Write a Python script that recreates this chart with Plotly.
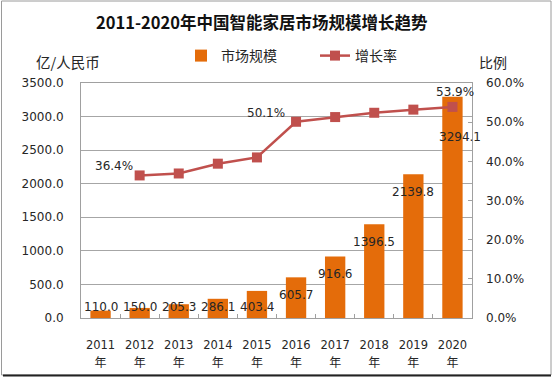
import plotly.graph_objects as go

# ---------------- data ----------------
categories = ["2011年", "2012年", "2013年", "2014年", "2015年",
              "2016年", "2017年", "2018年", "2019年", "2020年"]
market_size = [110.0, 150.0, 205.3, 286.1, 403.4, 605.7, 916.6, 1396.5, 2139.8, 3294.1]
growth_categories = ["2012年", "2013年", "2014年", "2015年", "2016年",
                     "2017年", "2018年", "2019年", "2020年"]
growth_rate = [0.364, 0.369, 0.394, 0.410, 0.501, 0.513, 0.524, 0.532, 0.539]
growth_labelled = ["2012年", "2016年", "2020年"]
tick_years = [c[:4] for c in categories]
tick_suffix = [c[4:] for c in categories]
left_ticks = [0, 500, 1000, 1500, 2000, 2500, 3000, 3500]
right_ticks = [0, 0.1, 0.2, 0.3, 0.4, 0.5, 0.6]

title_text = "2011-2020年中国智能家居市场规模增长趋势"
left_title = "亿/人民币"
right_title = "比例"
bar_name = "市场规模"
line_name = "增长率"

# ---------------- layout geometry ----------------
W, H = 554, 378
L, R, T, B = 81, 82, 83, 60
PW, PH = W - L - R, H - T - B
Y_MAX = 3500


def px_x(px):
    return (px - L) / PW


def px_y(py):
    return (H - B - py) / PH


FONT = "DejaVu Sans, Noto Sans CJK SC, sans-serif"
CJK = "Noto Sans CJK SC, DejaVu Sans, sans-serif"
TXT = "#262626"
BAR_C = "#E46C0A"
LINE_C = "#C0504D"

tick_text = [
    f"<span style='font-size:11.5px'>{y}</span><br><span style='font-size:12px'>{s}</span>"
    for y, s in zip(tick_years, tick_suffix)
]

fig = go.Figure()
fig.add_trace(go.Bar(
    x=categories, y=market_size, name=bar_name,
    marker=dict(color=BAR_C, line=dict(width=0)),
    width=0.52, yaxis="y",
))
fig.add_trace(go.Scatter(
    x=growth_categories, y=growth_rate, name=line_name, yaxis="y2",
    mode="lines+markers",
    line=dict(color=LINE_C, width=2.5),
    marker=dict(symbol="square", size=10, color=LINE_C),
))

annotations = []
# bar value labels
for i, (c, v) in enumerate(zip(categories, market_size)):
    top_px = (H - B) - v / Y_MAX * PH
    label_px = min(top_px + 18, 307)
    xs = 0
    if i == len(categories) - 1:
        label_px = top_px + 40
        xs = 8
    annotations.append(dict(
        x=c, y=v, xref="x", yref="y", text=f"{v:.1f}", showarrow=False,
        yanchor="middle", xanchor="center", yshift=-(label_px - top_px), xshift=xs,
        font=dict(family=FONT, size=12, color=TXT),
    ))
# line value labels
line_offsets = {"2012年": (-26, 9), "2016年": (-30, 9), "2020年": (3, 15)}
for c in growth_labelled:
    v = growth_rate[growth_categories.index(c)]
    dx, dy = line_offsets[c]
    annotations.append(dict(
        x=c, y=v, xref="x", yref="y2", text=f"{v*100:.1f}%", showarrow=False,
        xshift=dx, yshift=dy,
        font=dict(family=FONT, size=12, color=TXT),
    ))
# titles
annotations.append(dict(
    x=px_x(262), y=px_y(22), xref="paper", yref="paper", text="<b>" + title_text + "</b>",
    showarrow=False, xanchor="center", yanchor="middle",
    font=dict(family=CJK, size=16.5, color="#111111"),
))
annotations.append(dict(
    x=px_x(68), y=px_y(61), xref="paper", yref="paper", text=left_title,
    showarrow=False, xanchor="center", yanchor="middle",
    font=dict(family=CJK, size=14.5, color=TXT),
))
annotations.append(dict(
    x=px_x(493), y=px_y(62), xref="paper", yref="paper", text=right_title,
    showarrow=False, xanchor="center", yanchor="middle",
    font=dict(family=CJK, size=14, color=TXT),
))

shapes = [
    dict(type="rect", xref="paper", yref="paper",
         x0=px_x(1.5), x1=px_x(551), y0=px_y(1), y1=px_y(375),
         line=dict(color="#9a9a9a", width=1), layer="below"),
    dict(type="line", xref="paper", yref="paper",
         x0=px_x(3), x1=px_x(551), y0=px_y(375.5), y1=px_y(375.5),
         line=dict(color="#222222", width=2)),
]

fig.update_layout(
    width=W, height=H,
    margin=dict(l=L, r=R, t=T, b=B, pad=0, autoexpand=False),
    paper_bgcolor="white", plot_bgcolor="white",
    font=dict(family=FONT, size=12, color=TXT),
    showlegend=True,
    legend=dict(
        orientation="h", x=px_x(181), y=px_y(56), xanchor="left", yanchor="middle",
        font=dict(family=CJK, size=14, color=TXT),
        bgcolor="rgba(0,0,0,0)", entrywidth=89, entrywidthmode="pixels",
        itemclick=False,
    ),
    bargap=0.48,
    xaxis=dict(
        type="category", categoryorder="array", categoryarray=categories,
        tickvals=categories, ticktext=tick_text, range=[-0.5, 9.5],
        showline=True, linecolor="#a0a0a0", linewidth=1, mirror=True,
        ticks="inside", tickson="boundaries", ticklen=4, tickcolor="#a0a0a0",
        ticklabelstandoff=13,
        tickfont=dict(family=FONT, size=14, color=TXT),
        showgrid=False, zeroline=False,
    ),
    yaxis=dict(
        range=[0, Y_MAX], tickvals=left_ticks, tickformat=".1f",
        showgrid=True, gridcolor="#a6a6a6", gridwidth=1,
        showline=True, linecolor="#a0a0a0", linewidth=1, mirror=True,
        ticks="", ticklabelstandoff=14, zeroline=False,
        tickfont=dict(family=FONT, size=12, color=TXT),
    ),
    yaxis2=dict(
        overlaying="y", side="right", range=[0, 0.6], tickvals=right_ticks,
        tickformat=".1%", showgrid=False, zeroline=False,
        ticks="inside", ticklen=4, tickcolor="#a0a0a0",
        ticklabelstandoff=13, showline=False,
        tickfont=dict(family=FONT, size=12, color=TXT),
    ),
    annotations=annotations,
    shapes=shapes,
)

fig.write_html("out.html", config={"displayModeBar": False},
               post_script="document.body.style.margin='0px';")
